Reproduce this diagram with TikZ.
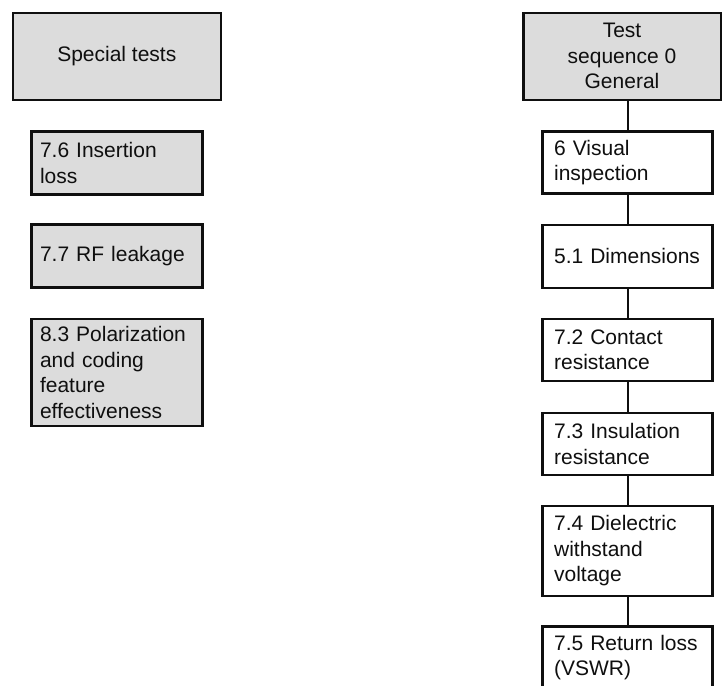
\documentclass[tikz,border=0pt]{standalone}
\usepackage{fontspec}
\setmainfont{Liberation Sans}
\definecolor{boxgray}{RGB}{220,220,220}
\definecolor{inkcol}{RGB}{15,15,15}
\tikzset{
  px/.style={x=1pt,y=-1pt},
  headbox/.style={draw=inkcol, line width=2.5pt, fill=boxgray, rectangle, inner sep=0pt,
     align=center, font=\fontsize{21}{25.5}\selectfont, text=inkcol},
  specbox/.style={draw=inkcol, line width=2.5pt, fill=boxgray, rectangle, inner xsep=8.5pt, inner ysep=0pt,
     text width=154pt, minimum width=171pt, align=left, font=\fontsize{21}{25.5}\selectfont, text=inkcol},
  seqbox/.style={draw=inkcol, line width=2.5pt, fill=white, rectangle, inner xsep=11.5pt, inner ysep=0pt,
     text width=147pt, minimum width=170pt, align=left, font=\fontsize{21}{25.5}\selectfont, text=inkcol},
  link/.style={draw=inkcol, line width=1.8pt}
}
\begin{document}
\begin{tikzpicture}[px]
\clip (0,0) rectangle (722,685);
\fill[white] (0,0) rectangle (722,685);
% left column
\node[headbox, minimum width=208pt, minimum height=87pt] (st) at (116.8,56.3) {Special tests};
\node[specbox, minimum height=63pt] (s76) at (117,163) {7.6 Insertion\\loss};
\node[specbox, minimum height=63pt] (s77) at (117,256) {7.7 RF leakage};
\node[specbox, minimum height=107pt] (s83) at (117,372.5) {8.3 Polarization\\and coding\\feature\\effectiveness};
% right column
\node[headbox, minimum width=197.5pt, minimum height=87pt] (ts) at (622,56.3) {Test\\sequence 0\\General};
\node[seqbox, minimum height=62pt] (v6) at (627.6,162.7) {6 Visual\\inspection};
\node[seqbox, minimum height=63pt] (d51) at (627.6,256.3) {5.1 Dimensions};
\node[seqbox, minimum height=62pt] (c72) at (627.6,350) {7.2 Contact\\resistance};
\node[seqbox, minimum height=62pt] (i73) at (627.6,443.8) {7.3 Insulation\\resistance};
\node[seqbox, minimum height=90pt] (d74) at (627.6,551) {7.4 Dielectric\\withstand\\voltage};
\node[seqbox, minimum height=62pt] (r75) at (627.6,657.7) {7.5 Return loss\\(VSWR)};
% connectors
\draw[link] (ts.south -| v6.north) -- (v6.north);
\draw[link] (v6.south) -- (d51.north);
\draw[link] (d51.south) -- (c72.north);
\draw[link] (c72.south) -- (i73.north);
\draw[link] (i73.south) -- (d74.north);
\draw[link] (d74.south) -- (r75.north);
\end{tikzpicture}
\end{document}
